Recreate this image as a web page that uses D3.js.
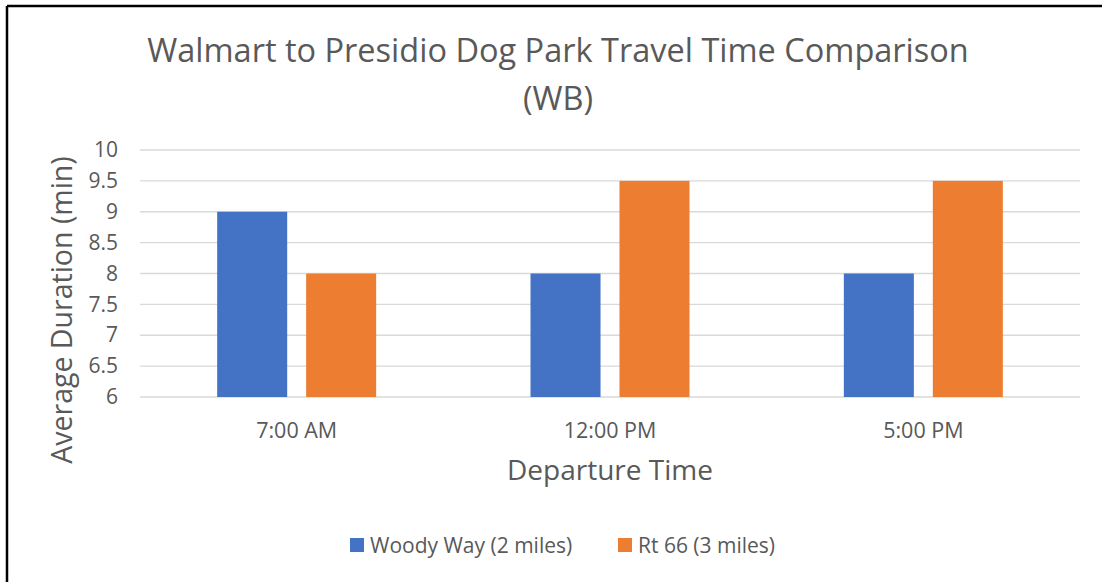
<!DOCTYPE html>
<style>
    body { margin: 0; background: #fff; }
    text { font-family: "Open Sans", sans-serif; fill: #595959; }
</style>
<svg width="1102" height="582"></svg>
<script src="https://d3js.org/d3.v7.min.js"></script>
<script>
    var categories = ["7:00 AM", "12:00 PM", "5:00 PM"];
    var seriesNames = ["Woody Way (2 miles)", "Rt 66 (3 miles)"];
    var woodyWay = [9, 8, 8];
    var rt66 = [8, 9.5, 9.5];
    var yTicks = [6, 6.5, 7, 7.5, 8, 8.5, 9, 9.5, 10];
    var colors = ["#4472C4", "#ED7D31"];

    var svg = d3.select('svg');
    var plotLeft = 140, plotRight = 1080, plotTop = 150, plotBottom = 397;

    // frame (top and left edges only visible)
    svg.append('line').attr('x1', 7).attr('x2', 1102).attr('y1', 6).attr('y2', 6)
        .attr('stroke', '#000').attr('stroke-width', 2.5);
    svg.append('line').attr('x1', 7).attr('x2', 7).attr('y1', 6).attr('y2', 582)
        .attr('stroke', '#000').attr('stroke-width', 2.5);

    var x = d3.scaleBand().domain(categories).range([plotLeft, plotRight]);
    var inner = d3.scaleBand().domain([0, 1]).range([0, 159]).paddingInner(0.213);
    var y = d3.scaleLinear().domain([6, 10]).range([plotBottom, plotTop]);

    // gridlines
    svg.append('g').selectAll('line').data(yTicks).join('line')
        .attr('x1', plotLeft).attr('x2', plotRight)
        .attr('y1', function(d) { return y(d); }).attr('y2', function(d) { return y(d); })
        .attr('stroke', '#d9d9d9').attr('stroke-width', 1.3);

    var yAxis = svg.append('g').attr('transform', 'translate(' + (plotLeft - 10) + ',0)')
        .call(d3.axisLeft(y).tickValues(yTicks).tickSize(0).tickPadding(12).tickFormat(d3.format('')));
    yAxis.select('.domain').remove();
    yAxis.selectAll('text').style('font-size', '21px').attr('fill', '#595959');

    var rows = categories.map(function(c, i) { return [woodyWay[i], rt66[i]]; });
    var groups = svg.append('g').selectAll('g').data(rows).join('g')
        .attr('transform', function(d, i) {
            return 'translate(' + (x(categories[i]) + (x.bandwidth() - 159) / 2) + ',0)';
        });
    groups.selectAll('rect').data(function(d) { return d; }).join('rect')
        .attr('x', function(d, j) { return inner(j); })
        .attr('width', inner.bandwidth())
        .attr('y', function(d) { return y(d); })
        .attr('height', function(d) { return y(6) - y(d); })
        .attr('fill', function(d, j) { return colors[j]; });

    var xAxis = svg.append('g').attr('transform', 'translate(0,' + plotBottom + ')')
        .call(d3.axisBottom(x).tickSize(0).tickPadding(26));
    xAxis.select('.domain').remove();
    xAxis.selectAll('text').style('font-size', '21.5px').attr('fill', '#595959');

    svg.append('text').attr('x', 558).attr('y', 62).attr('text-anchor', 'middle')
        .style('font-size', '32.5px').text('Walmart to Presidio Dog Park Travel Time Comparison');
    svg.append('text').attr('x', 558).attr('y', 110).attr('text-anchor', 'middle')
        .style('font-size', '32.5px').text('(WB)');

    svg.append('text').attr('x', 610).attr('y', 480).attr('text-anchor', 'middle')
        .style('font-size', '28px').text('Departure Time');
    svg.append('text').attr('transform', 'translate(72,310) rotate(-90)').attr('text-anchor', 'middle')
        .style('font-size', '28.5px').text('Average Duration (min)');

    var legendX = [350, 618];
    var legend = svg.append('g').selectAll('g').data(seriesNames).join('g')
        .attr('transform', function(d, i) { return 'translate(' + legendX[i] + ',538)'; });
    legend.append('rect').attr('width', 14).attr('height', 14)
        .attr('fill', function(d, i) { return colors[i]; });
    legend.append('text').attr('x', 20).attr('y', 15).style('font-size', '21px')
        .text(function(d) { return d; });
</script>
